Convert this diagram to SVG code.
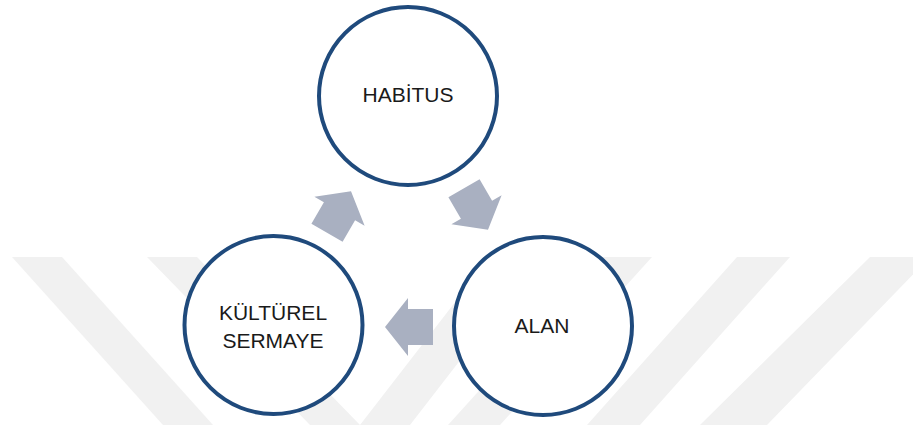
<svg xmlns="http://www.w3.org/2000/svg" width="913" height="425" viewBox="0 0 913 425">
  <style>
    .wm { fill: #f1f1f1; }
    .node { fill: #ffffff; stroke: #1f4a7c; stroke-width: 4; }
    .label { font-family: "Liberation Sans", Arial, sans-serif; font-size: 21px; fill: #1a1a1a; text-anchor: middle; }
    .arrow { fill: #a9b0c1; }
  </style>
  <defs>
    <path id="arr" d="M -24,0 L -1,-29 L -1,-18 L 24,-18 L 24,18 L -1,18 L -1,29 Z"/>
  </defs>
  <rect width="913" height="425" fill="#ffffff"/>
  <g id="watermark">
    <polygon class="wm" points="12,257 62,257 213,425 163,425"/>
    <polygon class="wm" points="147,257 197,257 360,425 310,425"/>
    <polygon class="wm" points="490,257 540,257 410,425 360,425"/>
    <polygon class="wm" points="600,257 652,257 500,425 448,425"/>
    <polygon class="wm" points="737,257 790,257 640,425 587,425"/>
    <polygon class="wm" points="870,257 930,257 767,425 700,425"/>
  </g>
  <g id="connectors">
    <use href="#arr" class="arrow" transform="translate(339,212) rotate(120)"/>
    <use href="#arr" class="arrow" transform="translate(476,209) rotate(-120)"/>
    <use href="#arr" class="arrow" transform="translate(409,327)"/>
  </g>
  <g id="habitus">
    <circle class="node" cx="408" cy="96" r="89"/>
    <text class="label" x="408" y="102">HABİTUS</text>
  </g>
  <g id="alan">
    <circle class="node" cx="543" cy="326" r="89"/>
    <text class="label" x="542" y="333">ALAN</text>
  </g>
  <g id="kulturel-sermaye">
    <circle class="node" cx="273.5" cy="325" r="89"/>
    <text class="label" x="273" y="320">KÜLTÜREL</text>
    <text class="label" x="273" y="348">SERMAYE</text>
  </g>
</svg>
